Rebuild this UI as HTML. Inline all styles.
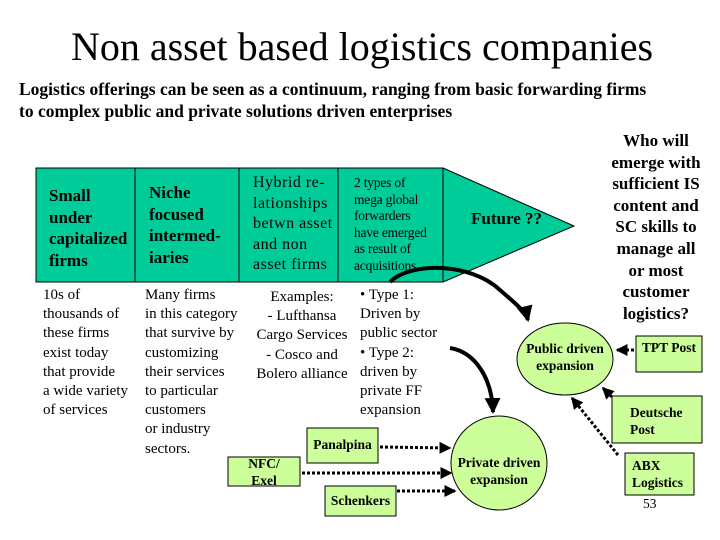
<!DOCTYPE html>
<html><head><meta charset="utf-8"><style>
body{margin:0;width:720px;height:540px;background:#fff;position:relative;overflow:hidden;font-family:"Liberation Serif",serif;color:#000}
.a{position:absolute;white-space:nowrap}
.b{font-weight:bold}
.l{font-size:15px;line-height:19.2px}
svg{position:absolute;left:0;top:0}
</style></head><body>
<svg width="720" height="540">
<defs>
<marker id="s" markerWidth="4" markerHeight="4" refX="3.5" refY="2" orient="auto" markerUnits="strokeWidth"><path d="M0,0 L4,2 L0,4 z" fill="#000"/></marker>
</defs>
<polygon points="36,168 443,168 574,226 443,282 36,282" fill="#00cc99"/>
<rect x="36" y="168" width="407" height="114" fill="none" stroke="#000" stroke-width="1"/>
<polyline points="443,168 574,226 443,282" fill="none" stroke="#000" stroke-width="1"/>
<line x1="135" y1="168" x2="135" y2="282" stroke="#000"/>
<line x1="239" y1="168" x2="239" y2="282" stroke="#000"/>
<line x1="338" y1="168" x2="338" y2="282" stroke="#000"/>
<path d="M390,282 C410,262 470,262 500,290 C515,303 526,312 528,320" fill="none" stroke="#000" stroke-width="4" marker-end="url(#s)"/>
<path d="M450,348 C475,352 492,378 493,412" fill="none" stroke="#000" stroke-width="4" marker-end="url(#s)"/>
<ellipse cx="565" cy="359" rx="48" ry="36" fill="#ccff99" stroke="#000"/>
<ellipse cx="499" cy="463" rx="48" ry="47" fill="#ccff99" stroke="#000"/>
<rect x="636" y="336" width="66" height="36" fill="#ccff99" stroke="#000"/>
<rect x="612" y="396" width="90" height="47" fill="#ccff99" stroke="#000"/>
<rect x="625" y="453" width="69" height="42" fill="#ccff99" stroke="#000"/>
<rect x="307" y="428" width="71" height="35" fill="#ccff99" stroke="#000"/>
<rect x="228" y="457" width="72" height="29" fill="#ccff99" stroke="#000"/>
<rect x="325" y="486" width="71" height="30" fill="#ccff99" stroke="#000"/>
<g stroke="#000" stroke-width="3" stroke-dasharray="3,2" fill="none">
<line x1="380" y1="447" x2="450" y2="448" marker-end="url(#s)"/>
<line x1="302" y1="473" x2="451" y2="473" marker-end="url(#s)"/>
<line x1="397" y1="491" x2="455" y2="491" marker-end="url(#s)"/>
<line x1="634" y1="350" x2="617" y2="350" marker-end="url(#s)"/>
<line x1="612" y1="397" x2="603" y2="388" marker-end="url(#s)"/>
<line x1="618" y1="455" x2="572" y2="398" marker-end="url(#s)"/>
</g>
</svg>
<div class="a" style="left:0;width:724px;text-align:center;top:24px;font-size:40px;line-height:46px">Non asset based logistics companies</div>
<div class="a b" style="left:19px;top:78px;font-size:17.5px;line-height:22px">Logistics offerings can be seen as a continuum, ranging from basic forwarding firms<br>to complex public and private solutions driven enterprises</div>
<div class="a b" style="left:49px;top:185px;font-size:17px;line-height:21.5px">Small<br>under<br>capitalized<br>firms</div>
<div class="a b" style="left:149px;top:182px;font-size:17px;line-height:21.5px">Niche<br>focused<br>intermed-<br>iaries</div>
<div class="a" style="left:253px;top:173px;font-size:16px;line-height:20.5px;letter-spacing:0.5px">Hybrid re-<br>lationships<br>betwn asset<br>and non<br>asset firms</div>
<div class="a" style="left:354px;top:175px;font-size:13.5px;line-height:16.5px;letter-spacing:-0.2px">2 types of<br>mega global<br>forwarders<br>have emerged<br>as result of<br>acquisitions</div>
<div class="a b" style="left:471px;top:209px;font-size:17px">Future ??</div>
<div class="a b" style="left:588px;width:136px;text-align:center;top:130px;font-size:17px;line-height:21.6px">Who will<br>emerge with<br>sufficient IS<br>content and<br>SC skills to<br>manage all<br>or most<br>customer<br>logistics?</div>
<div class="a l" style="left:43px;top:286px">10s of<br>thousands of<br>these firms<br>exist today<br>that provide<br>a wide variety<br>of services</div>
<div class="a l" style="left:145px;top:286px">Many firms<br>in this category<br>that survive by<br>customizing<br>their services<br>to particular<br>customers<br>or industry<br>sectors.</div>
<div class="a l" style="left:246px;width:112px;text-align:center;top:288px">Examples:<br>- Lufthansa<br>Cargo Services<br>- Cosco and<br>Bolero alliance</div>
<div class="a l" style="left:360px;top:286px">• Type 1:<br>Driven by<br>public sector<br>• Type 2:<br>driven by<br>private FF<br>expansion</div>
<div class="a b" style="left:517px;width:96px;text-align:center;top:340px;font-size:13.5px;line-height:17px">Public driven<br>expansion</div>
<div class="a b" style="left:451px;width:96px;text-align:center;top:454px;font-size:13.5px;line-height:17px">Private driven<br>expansion</div>
<div class="a b" style="left:636px;width:66px;text-align:center;top:340px;font-size:13.5px">TPT Post</div>
<div class="a b" style="left:630px;top:404px;font-size:13.5px;line-height:17px">Deutsche<br>Post</div>
<div class="a b" style="left:632px;top:457px;font-size:13.5px;line-height:17px">ABX<br>Logistics</div>
<div class="a" style="left:643px;top:496px;font-size:13.5px">53</div>
<div class="a b" style="left:307px;width:71px;text-align:center;top:437px;font-size:13.5px">Panalpina</div>
<div class="a b" style="left:228px;width:72px;text-align:center;top:455px;font-size:13.5px;line-height:17px">NFC/<br>Exel</div>
<div class="a b" style="left:325px;width:71px;text-align:center;top:493px;font-size:13.5px">Schenkers</div>
</body></html>
